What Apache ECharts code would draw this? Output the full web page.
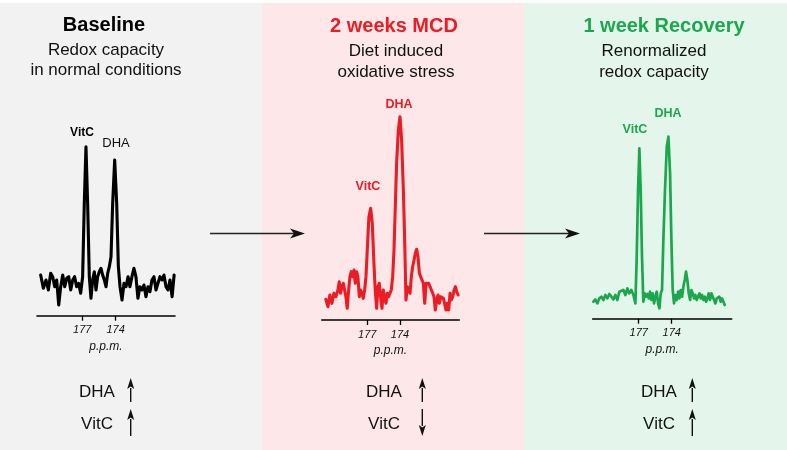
<!DOCTYPE html>
<html><head><meta charset="utf-8">
<script src="https://cdn.jsdelivr.net/npm/echarts@6/dist/echarts.min.js"></script>
<style>html,body{margin:0;padding:0;background:#fff}#c{width:787px;height:450px}</style>
</head><body><div id="c"></div>
<script>
// ---- data ----
const tickPpm = [177, 174];
const panelTitles = ['Baseline', '2 weeks MCD', '1 week Recovery'];
const panelSub1 = ['Redox capacity', 'Diet induced', 'Renormalized'];
const panelSub2 = ['in normal conditions', 'oxidative stress', 'redox capacity'];
const trendLabels = ['DHA', 'VitC'];
const trendDir = [['up', 'up'], ['up', 'down'], ['up', 'up']];

const baselinePpm = [180.74,180.50,180.26,180.05,179.84,179.66,179.48,179.30,179.12,178.94,178.76,178.58,178.40,178.22,178.04,177.86,177.69,177.51,177.33,177.15,176.97,176.82,176.67,176.52,176.37,176.22,176.07,175.92,175.77,175.62,175.47,175.32,175.17,175.02,174.87,174.72,174.57,174.42,174.27,174.09,173.91,173.76,173.61,173.43,173.25,173.07,172.89,172.72,172.54,172.36,172.18,172.00,171.82,171.64,171.46,171.28,171.10,170.92,170.74,170.56,170.38,170.20,170.02,169.84,169.66,169.48,169.30,169.12,168.93,168.75];
const baselineInt = [40.7,27.4,35.7,25.7,42.4,39.0,29.0,35.7,10.7,29.0,40.7,29.0,37.4,39.0,25.7,35.7,39.0,29.0,32.4,22.4,39.0,112.4,169.0,112.4,39.0,17.4,35.7,44.0,25.7,39.0,44.0,47.4,40.7,35.7,29.0,42.4,49.0,59.0,112.4,155.7,112.4,49.0,29.0,15.7,32.4,29.0,39.0,29.0,39.0,47.4,39.0,17.4,29.0,25.7,30.7,19.0,29.0,24.0,35.7,39.0,25.7,32.4,39.0,35.7,40.7,29.0,25.7,35.7,19.0,40.7];

const mcdPpm = [180.80,180.61,180.43,180.24,180.06,179.88,179.69,179.57,179.45,179.33,179.20,179.08,178.96,178.84,178.71,178.59,178.47,178.35,178.22,178.10,177.98,177.86,177.73,177.61,177.49,177.37,177.24,177.12,177.00,176.85,176.69,176.54,176.39,176.27,176.14,176.02,175.90,175.78,175.65,175.53,175.41,175.29,175.16,175.04,174.92,174.80,174.67,174.55,174.43,174.31,174.15,174.00,173.85,173.69,173.57,173.45,173.33,173.20,173.08,172.96,172.84,172.71,172.59,172.47,172.35,172.22,172.10,171.98,171.86,171.73,171.61,171.49,171.37,171.24,171.12,171.00,170.88,170.76,170.63,170.51,170.39,170.27,170.14,170.02,169.90,169.78,169.65,169.53,169.41,169.29,169.16,169.04,168.92,168.80,168.67];
const mcdInt = [20.7,13.3,25,16.7,26.7,23.3,30,38.3,26.7,33.3,36.7,30,23.3,11.7,30,43.3,48.3,43.3,50,36.7,48.3,43.3,23.3,30,26.7,21.7,30,43.3,70,103.3,111.7,96.7,56.7,30,11.7,33.3,36.7,23.3,11.7,30,23.3,16.7,26.7,23.3,26.7,30,43.3,70,113.3,156.7,190,203.3,180,130,80,20,33.3,30,26.7,43.3,53.3,60,66.7,70.7,63.3,46.7,43.3,40,36.7,16.7,36.7,38.3,36.7,35,30,26.7,23.3,10,20,25,16.7,23.3,25,21.7,20,10,16.7,10,26.7,20,23.3,30,33.3,28.3,25];

const recPpm = [181.12,180.94,180.76,180.58,180.39,180.21,180.03,179.85,179.67,179.48,179.30,179.12,178.94,178.76,178.58,178.39,178.21,178.03,177.85,177.67,177.48,177.30,177.18,177.06,176.94,176.82,176.70,176.58,176.45,176.33,176.21,176.09,175.97,175.85,175.73,175.61,175.48,175.36,175.24,175.12,175.00,174.88,174.76,174.61,174.45,174.30,174.15,174.03,173.91,173.79,173.67,173.55,173.42,173.30,173.18,173.06,172.94,172.82,172.70,172.58,172.45,172.33,172.21,172.09,171.97,171.85,171.73,171.61,171.48,171.36,171.24,171.12,171.00,170.88,170.76,170.64,170.52,170.39,170.27,170.15,170.03,169.91,169.79,169.67,169.55,169.42,169.30,169.18];
const recInt = [17,19.3,15.3,20.3,22,18.7,23.7,20.3,24.7,22,19.3,23.7,18.7,27,25.3,28.7,23.7,30.3,25.3,28.7,23.7,15.3,62,128.7,170.3,128.7,62,17,25.3,22,24.7,20.3,27,18.7,25.3,15.3,22,27,15.3,10.3,25.3,28.7,78.7,128.7,172,182,145.3,78.7,28.7,15.3,23.7,18.7,27,20.3,28.7,22,32,38.7,47,38.7,25.3,18.7,28.7,25.3,20.3,23.7,18.7,22,25.3,20.3,23.7,18.7,22,17,20.3,25.3,18.7,25.3,27,18.7,15.3,20.3,18.7,22,17,20.3,17,13.7];

// ---- styling / layout ----
const FONT = '"Liberation Sans", Arial, sans-serif';
const RED = '#ec1c24', GREEN = '#1ba84c';
const titleColors = ['#000000', RED, GREEN];
const lineColors = ['#000000', RED, GREEN];
const bgColors = ['#f2f2f2', '#fde7e8', '#e4f5eb'];
const panels = [
  {x0: 0, x1: 262, cx: 104, subCx: 106, grid: {left: 37, width: 138, axisY: 315.7}, min: 168.67, max: 181.07,
   trendX: 97, arrowX: 130.7},
  {x0: 262, x1: 524, cx: 394, subCx: 396, grid: {left: 321.7, width: 137.6, axisY: 320}, min: 168.56, max: 181.18,
   trendX: 384, arrowX: 422.3},
  {x0: 524, x1: 787, cx: 664, subCx: 654, grid: {left: 592.7, width: 139, axisY: 318.7}, min: 168.55, max: 181.18,
   trendX: 659, arrowX: 692.3}
];
const seriesData = [[baselinePpm, baselineInt], [mcdPpm, mcdInt], [recPpm, recInt]];
const H = 220;

const grids = [], xAxes = [], yAxes = [], series = [];
panels.forEach((p, i) => {
  grids.push({left: p.grid.left, width: p.grid.width, top: p.grid.axisY - H, height: H});
  xAxes.push({
    type: 'value', gridIndex: i, inverse: true, min: p.min, max: p.max,
    axisLine: {show: true, lineStyle: {color: '#000', width: 1.6}},
    axisTick: {show: true, customValues: tickPpm, length: 5, lineStyle: {color: '#000', width: 1.3}},
    axisLabel: {show: true, customValues: tickPpm, fontStyle: 'italic', fontSize: 11, color: '#111', fontFamily: FONT, margin: 9},
    splitLine: {show: false},
    name: 'p.p.m.', nameLocation: 'middle', nameGap: 25,
    nameTextStyle: {fontStyle: 'italic', fontSize: 12, color: '#111', fontFamily: FONT}
  });
  yAxes.push({type: 'value', gridIndex: i, min: 0, max: H, show: false});
  const [xs, ys] = seriesData[i];
  series.push({
    type: 'line', xAxisIndex: i, yAxisIndex: i, showSymbol: false, symbol: 'none',
    data: xs.map((v, k) => [v, ys[k]]),
    lineStyle: {color: lineColors[i], width: i === 2 ? 2.7 : 3.1, join: 'round', cap: 'round'},
    clip: false, animation: false
  });
});

const g = [];
// backgrounds
panels.forEach((p, i) => {
  g.push({type: 'rect', z: -10, silent: true, shape: {x: p.x0, y: 3, width: p.x1 - p.x0, height: 447}, style: {fill: bgColors[i]}});
});
function txt(text, x, y, size, weight, color) {
  g.push({type: 'text', z: 10, style: {text, x, y, align: 'center', verticalAlign: 'middle',
    font: `${weight} ${size}px ${FONT}`, fill: color}});
}
panels.forEach((p, i) => {
  txt(panelTitles[i], p.cx, i === 0 ? 25 : 26, 20, 'bold', titleColors[i]);
  txt(panelSub1[i], p.subCx, i === 0 ? 50 : 51.5, 17, 'normal', '#111');
  txt(panelSub2[i], p.subCx, i === 0 ? 70.5 : 72, 17, 'normal', '#111');
  txt(trendLabels[0], p.trendX, 392.5, 17, 'normal', '#111');
  txt(trendLabels[1], p.trendX, 424.5, 17, 'normal', '#111');
});
// peak labels
txt('VitC', 82, 132.5, 12, 'bold', '#000');
txt('DHA', 116, 143, 13, 'normal', '#111');
txt('DHA', 399, 105, 12.5, 'bold', RED);
txt('VitC', 368, 187, 12.5, 'bold', RED);
txt('VitC', 635, 130, 12.5, 'bold', GREEN);
txt('DHA', 668, 114, 12.5, 'bold', GREEN);

// vertical arrows
function vArrow(x, yTop, yBot, dir) {
  const tip = dir === 'up' ? yTop : yBot;
  const base = dir === 'up' ? yTop + 10 : yBot - 10;
  g.push({type: 'line', z: 10, shape: {x1: x, y1: dir === 'up' ? base : yTop, x2: x, y2: dir === 'up' ? yBot : base},
    style: {stroke: '#111', lineWidth: 1.4}});
  g.push({type: 'polygon', z: 10, shape: {points: [[x, tip], [x - 3.5, base + (dir === 'up' ? 1 : -1)], [x, base - (dir === 'up' ? 1.5 : -1.5)], [x + 3.5, base + (dir === 'up' ? 1 : -1)]]},
    style: {fill: '#111'}});
}
panels.forEach((p, i) => {
  vArrow(p.arrowX, 378, 402, trendDir[i][0]);
  vArrow(p.arrowX, 409, 436, trendDir[i][1]);
});
// horizontal arrows
function hArrow(x1, x2, y) {
  g.push({type: 'line', z: 10, shape: {x1, y1: y, x2: x2 - 10, y2: y}, style: {stroke: '#222', lineWidth: 1.5}});
  g.push({type: 'polygon', z: 10, shape: {points: [[x2, y], [x2 - 15, y - 5], [x2 - 11, y], [x2 - 15, y + 5]]}, style: {fill: '#111'}});
}
hArrow(210, 305, 233.5);
hArrow(484, 580, 233.5);

const chart = echarts.init(document.getElementById('c'), null, {renderer: 'canvas'});
chart.setOption({
  animation: false,
  backgroundColor: '#ffffff',
  grid: grids, xAxis: xAxes, yAxis: yAxes, series, graphic: g
});
</script></body></html>
